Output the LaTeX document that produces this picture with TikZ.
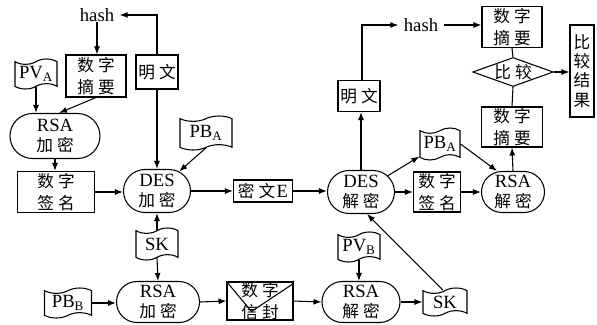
\documentclass[tikz,border=0pt]{standalone}
\usepackage{fontspec}
\setmainfont{Liberation Serif}
\newfontfamily\cjk{Noto Sans CJK SC}
\usetikzlibrary{shapes.misc,shapes.symbols,shapes.geometric,arrows.meta,calc}
\newcommand\gp{\hspace{3pt}}
\newcommand\zh[1]{{\cjk\fontsize{12.5}{16}\selectfont #1}}
\begin{document}
\begin{tikzpicture}[x=0.75pt,y=-0.75pt,
  every node/.style={font=\fontsize{14}{15.5}\selectfont, inner sep=0pt, align=center},
  zhf/.style={font=\cjk\fontsize{12.5}{16}\selectfont},
  box/.style={draw, rectangle, line width=0.8pt},
  stad/.style={draw, rounded rectangle, line width=0.8pt},
  flag/.style={draw, tape, line width=0.8pt, tape bend height=4pt},
  dia/.style={draw, diamond, aspect=2.8, line width=0.8pt},
  ar/.style={-{Latex[length=6pt,width=4.5pt]}, line width=0.8pt},
  ln/.style={line width=0.8pt}
]
\useasboundingbox (0,0) rectangle (597,325);

% left part
\node (hashL) at (97,15) {hash};
\node[box,zhf,minimum width=45pt,minimum height=31.5pt] (zyL) at (96,76) {数\gp 字\\摘\gp 要};
\node[box,zhf,minimum width=31.5pt,minimum height=25.5pt] (mwL) at (157,72) {明\gp 文};
\node[flag,minimum width=31.5pt,minimum height=22.5pt] (pva) at (36,74) {PV\textsubscript{A}};
\node[stad,minimum width=67.5pt,minimum height=33.75pt] (rsaE1) at (55,136) {RSA\\\zh{加\gp 密}};
\node[box,zhf,minimum width=57.75pt,minimum height=30.75pt] (qmL) at (56,192) {数\gp 字\\签\gp 名};
\node[stad,minimum width=50.25pt,minimum height=32.25pt] (desE) at (157,191) {DES\\\zh{加\gp 密}};
\node[flag,minimum width=39pt,minimum height=25.5pt] (pbaL) at (206,133) {PB\textsubscript{A}};
\node[flag,minimum width=31.5pt,minimum height=24pt] (skL) at (157,244) {SK};
\node[stad,minimum width=62.25pt,minimum height=30.75pt] (rsaE2) at (158,302) {RSA\\\zh{加\gp 密}};
\node[flag,minimum width=35.25pt,minimum height=22.5pt] (pbB) at (68,303) {PB\textsubscript{B}};
\node[box,zhf,minimum width=49.5pt,minimum height=28.5pt] (env) at (260,301) {数\gp 字\\信\gp 封};
\draw[ln] (env.north west) -- ($(env.north west)+(25,30)$) -- ($(env.north east)+(0,2)$);

% middle / right
\node[box,zhf,minimum width=44.25pt,minimum height=16.5pt] (mE) at (263,191) {密\gp 文\hspace{1pt}\rmfamily\fontsize{14}{15}\selectfont E};
\node[stad,minimum width=50.25pt,minimum height=32.25pt] (desD) at (361,192) {DES\\\zh{解\gp 密}};
\node[stad,minimum width=58.5pt,minimum height=30.75pt] (rsaD2) at (361,302) {RSA\\\zh{解\gp 密}};
\node[flag,minimum width=31.5pt,minimum height=22.5pt] (pvB) at (359,247) {PV\textsubscript{B}};
\node[flag,minimum width=33pt,minimum height=21pt] (skR) at (445,302) {SK};
\node[box,zhf,minimum width=31.5pt,minimum height=23.25pt] (mwR) at (359,96) {明\gp 文};
\node (hashR) at (421,25) {hash};
\node[box,zhf,minimum width=45pt,minimum height=30.75pt] (zyR1) at (512,27) {数\gp 字\\摘\gp 要};
\node[dia,zhf,minimum width=54.75pt,minimum height=21.75pt] (cmp) at (513,72) {比\gp 较};
\node[box,zhf,minimum width=45.75pt,minimum height=30pt] (zyR2) at (512,127) {数\gp 字\\摘\gp 要};
\node[stad,minimum width=47.25pt,minimum height=30.75pt] (rsaD1) at (513,192) {RSA\\\zh{解\gp 密}};
\node[box,zhf,minimum width=35.25pt,minimum height=30pt] (qmR) at (437,192) {数\gp 字\\签\gp 名};
\node[flag,minimum width=30pt,minimum height=24pt] (pbaR) at (440,144) {PB\textsubscript{A}};
\node[box,minimum width=18pt,minimum height=69pt,font=\cjk\fontsize{12.5}{14.5}\selectfont] (jg) at (582,71) {比\\较\\结\\果};

% connectors left
\draw[ar] (hashL.south) -- (zyL.north -| hashL.south);
\draw[ar] (mwL.north) |- ([xshift=4pt]hashL.east);
\draw[ar] (mwL.south) -- (desE.north);
\draw[ar] (pva.south) -- (pva.south |- rsaE1.north);
\draw[ar] (zyL.south) -- ($(rsaE1.north)+(4,0)$);
\draw[ar] (rsaE1.south) -- (rsaE1.south |- qmL.north);
\draw[ar] (qmL.east) -- (qmL.east -| desE.west);
\draw[ar] (pbaL.south) -- (desE);
\draw[ar] (skL.north) -- (desE.south);
\draw[ar] (skL.south) -- (rsaE2.north);
\draw[ar] (pbB.east) -- (pbB.east -| rsaE2.west);
\draw[ar] (rsaE2.east) -- (env.west);
\draw[ar] (env.east) -- (rsaD2.west);
\draw[ar] (desE.east) -- (mE.west);
\draw[ar] (mE.east) -- (mE.east -| desD.west);
% connectors right
\draw[ar] (pvB.south) -- (pvB.south |- rsaD2.north);
\draw[ar] (rsaD2.east) -- (skR.west);
\draw[ar] ($(skR.north)+(-2,0)$) -- ($(desD.south)+(6,0)$);
\draw[ar] (desD.north) -- (desD.north |- mwR.south);
\draw[ar] ($(mwR.north)+(3,0)$) |- ([xshift=-4pt]hashR.west);
\draw[ar] ([xshift=4pt]hashR.east) -- (hashR.east -| zyR1.west);
\draw[ar] (desD) -- (pbaR);
\draw[ar] (desD.east) -- (qmR.west);
\draw[ar] (qmR.east) -- (qmR.east -| rsaD1.west);
\draw[ar] (pbaR.east) -- ($(rsaD1.north)+(-16,0)$);
\draw[ar] (rsaD1.north) -- (zyR2.south);
\draw[ln] (zyR2.north) -- (cmp.south);
\draw[ln] (cmp.north) -- (zyR1.south);
\draw[ar] (cmp.east) -- (cmp.east -| jg.west);
\end{tikzpicture}
\end{document}
